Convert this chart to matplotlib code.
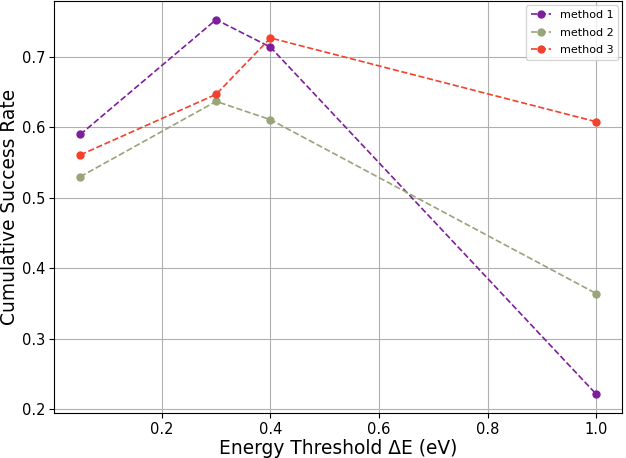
import matplotlib
matplotlib.use("Agg")
import matplotlib.pyplot as plt

# energy thresholds (eV)
thresholds = [0.05, 0.3, 0.4, 1.0]

# cumulative success rates
method1 = [0.590, 0.753, 0.714, 0.221]
method2 = [0.530, 0.637, 0.611, 0.364]
method3 = [0.561, 0.647, 0.727, 0.608]

labels = ['method 1', 'method 2', 'method 3']
colors = ['#7e1e9c', '#98a47a', '#f5402c']


def main():
    fig, ax = plt.subplots(figsize=(6.26, 4.58), dpi=100)
    for ys, lab, c in zip([method1, method2, method3], labels, colors):
        ax.plot(thresholds, ys, '--o', color=c, label=lab, markersize=5, linewidth=1.2)
    ax.set_xlabel('Energy Threshold ΔE (eV)', fontsize=13.4, labelpad=1)
    ax.set_ylabel('Cumulative Success Rate', fontsize=13.4, labelpad=2)
    ax.tick_params(labelsize=10.5, pad=3)
    ax.set_xticks([0.2, 0.4, 0.6, 0.8, 1.0])
    ax.grid(True)
    ax.legend(fontsize=8, loc='upper right', handlelength=1.8,
              labelspacing=0.7, borderaxespad=0.4)
    fig.subplots_adjust(left=0.087, right=0.994, top=0.998, bottom=0.098)
    fig.savefig('out.png')


if __name__ == '__main__':
    main()
